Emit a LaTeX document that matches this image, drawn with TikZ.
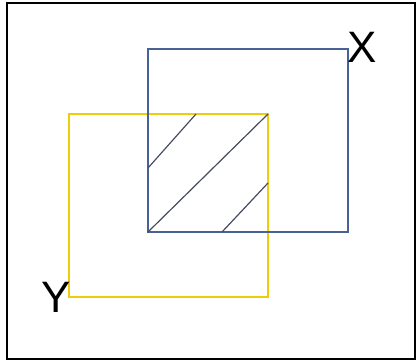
\documentclass[tikz,border=0pt]{standalone}
\usepackage{fontspec}
\setmainfont{Liberation Sans}
\definecolor{xblue}{RGB}{72,98,150}
\definecolor{yyellow}{RGB}{238,206,10}
\definecolor{hatch}{RGB}{70,75,95}
\begin{document}
\begin{tikzpicture}[x=1pt,y=-1pt,
  frame/.style={draw=black,line width=1.8pt},
  xsq/.style={draw=xblue,line width=2pt},
  ysq/.style={draw=yyellow,line width=2.6pt},
  hatchline/.style={draw=hatch,line width=1.2pt},
  lbl/.style={font=\fontsize{44}{44}\selectfont,inner sep=0pt,text=black}]
\useasboundingbox (0,0) rectangle (418,363);
\draw[frame] (7,3) rectangle (415,359);
\draw[ysq] (69,114) rectangle (268,297);
\draw[xsq] (148,49) rectangle (348,232);
\coordinate (h1a) at (148,168);
\coordinate (h1b) at (196,114);
\coordinate (h2a) at (148,232);
\coordinate (h2b) at (268,114);
\coordinate (h3a) at (222,232);
\coordinate (h3b) at (268,183);
\draw[hatchline] (h1a) -- (h1b);
\draw[hatchline] (h2a) -- (h2b);
\draw[hatchline] (h3a) -- (h3b);
\node[lbl] (X) at (362,47) {X};
\node[lbl] (Y) at (56,297) {Y};
\end{tikzpicture}
\end{document}
